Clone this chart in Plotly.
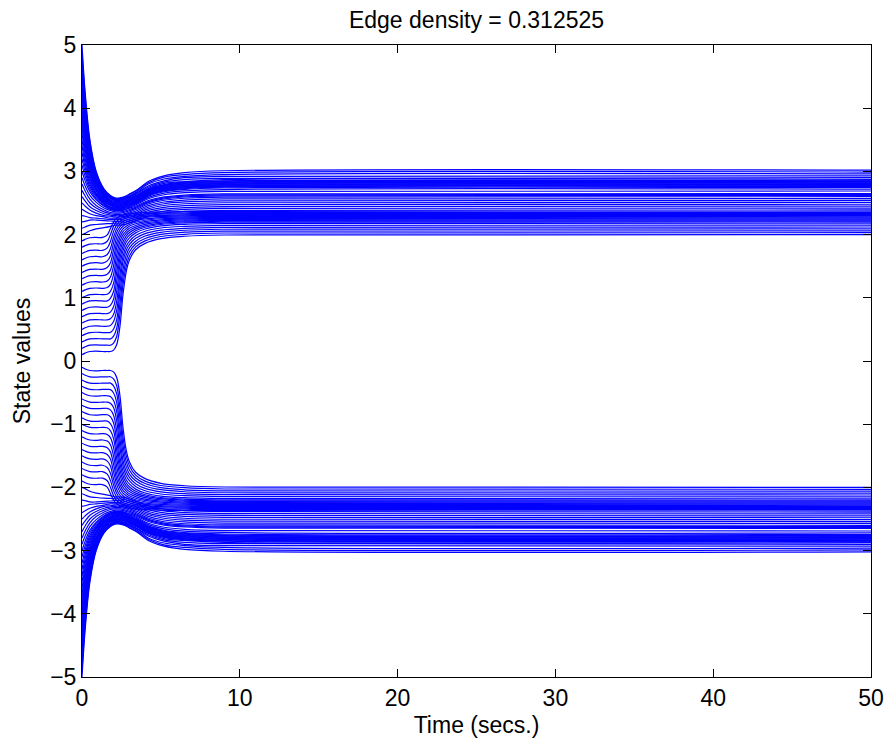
import plotly.graph_objects as go

# Sample times (s) for the two kinds of trajectories
T_DECAY = [0, 0.2, 0.5, 0.9, 1.4, 1.8, 2.1, 2.4, 2.7, 3.0, 3.5, 4.2, 5.2, 6.5, 9, 50]
T_RISE = [0, 0.2, 0.5, 0.9, 1.3, 1.6, 1.8, 2.0, 2.2, 2.4, 2.6, 2.8, 3.0, 3.4, 4.0, 5.0, 6.5, 9, 50]

# Upper cluster: trajectories starting above ~2 (decaying bundle)
UPPER_DECAY = [
    [5.0, 4.25, 3.5, 3.0, 2.72, 2.62, 2.58, 2.58, 2.6, 2.64, 2.71, 2.84, 2.93, 2.98, 3.01, 3.02],
    [4.9, 4.18, 3.46, 2.98, 2.71, 2.61, 2.57, 2.57, 2.59, 2.63, 2.7, 2.82, 2.91, 2.95, 2.98, 2.99],
    [4.8, 4.11, 3.42, 2.96, 2.69, 2.6, 2.56, 2.56, 2.58, 2.61, 2.68, 2.8, 2.88, 2.92, 2.95, 2.96],
    [4.7, 4.04, 3.38, 2.93, 2.68, 2.59, 2.55, 2.55, 2.57, 2.6, 2.66, 2.77, 2.85, 2.9, 2.92, 2.93],
    [4.6, 3.97, 3.34, 2.91, 2.67, 2.58, 2.54, 2.54, 2.56, 2.59, 2.65, 2.75, 2.83, 2.87, 2.89, 2.9],
    [4.5, 3.9, 3.3, 2.89, 2.65, 2.57, 2.53, 2.53, 2.55, 2.58, 2.63, 2.73, 2.81, 2.84, 2.87, 2.875],
    [4.4, 3.83, 3.25, 2.87, 2.64, 2.55, 2.52, 2.52, 2.535, 2.566, 2.622, 2.72, 2.792, 2.829, 2.852, 2.86],
    [4.3, 3.76, 3.21, 2.84, 2.63, 2.54, 2.51, 2.51, 2.525, 2.556, 2.612, 2.71, 2.782, 2.819, 2.842, 2.85],
    [4.2, 3.69, 3.17, 2.82, 2.61, 2.53, 2.5, 2.5, 2.515, 2.546, 2.602, 2.7, 2.772, 2.809, 2.832, 2.84],
    [4.1, 3.62, 3.13, 2.8, 2.6, 2.52, 2.49, 2.49, 2.505, 2.536, 2.592, 2.69, 2.762, 2.799, 2.822, 2.83],
    [4.0, 3.55, 3.09, 2.78, 2.59, 2.51, 2.48, 2.48, 2.495, 2.526, 2.582, 2.68, 2.752, 2.789, 2.812, 2.82],
    [3.9, 3.48, 3.05, 2.75, 2.57, 2.5, 2.47, 2.47, 2.485, 2.516, 2.572, 2.67, 2.742, 2.779, 2.802, 2.81],
    [3.8, 3.41, 3.01, 2.73, 2.56, 2.49, 2.46, 2.46, 2.475, 2.506, 2.562, 2.66, 2.732, 2.769, 2.792, 2.8],
    [3.7, 3.34, 2.97, 2.71, 2.54, 2.48, 2.45, 2.45, 2.465, 2.496, 2.552, 2.65, 2.722, 2.759, 2.782, 2.79],
    [3.6, 3.27, 2.93, 2.69, 2.53, 2.47, 2.44, 2.44, 2.455, 2.486, 2.542, 2.64, 2.712, 2.749, 2.772, 2.78],
    [3.5, 3.2, 2.89, 2.66, 2.52, 2.46, 2.43, 2.43, 2.445, 2.476, 2.532, 2.63, 2.702, 2.739, 2.762, 2.77],
    [3.4, 3.13, 2.84, 2.64, 2.5, 2.44, 2.42, 2.42, 2.435, 2.466, 2.522, 2.62, 2.692, 2.729, 2.752, 2.76],
    [3.3, 3.06, 2.8, 2.62, 2.49, 2.43, 2.41, 2.41, 2.425, 2.456, 2.51, 2.608, 2.678, 2.715, 2.737, 2.745],
    [3.2, 2.99, 2.76, 2.6, 2.48, 2.42, 2.4, 2.4, 2.414, 2.444, 2.496, 2.589, 2.656, 2.691, 2.713, 2.72],
    [3.1, 2.92, 2.72, 2.57, 2.46, 2.41, 2.39, 2.39, 2.4, 2.43, 2.48, 2.567, 2.63, 2.663, 2.683, 2.69],
    [3.0, 2.85, 2.68, 2.55, 2.45, 2.4, 2.38, 2.38, 2.392, 2.417, 2.461, 2.539, 2.596, 2.626, 2.644, 2.65],
    [2.9, 2.77, 2.62, 2.51, 2.42, 2.38, 2.36, 2.36, 2.372, 2.397, 2.443, 2.522, 2.58, 2.61, 2.629, 2.635],
    [2.8, 2.69, 2.56, 2.46, 2.39, 2.35, 2.34, 2.34, 2.353, 2.378, 2.424, 2.505, 2.564, 2.595, 2.614, 2.62],
    [2.7, 2.61, 2.5, 2.42, 2.36, 2.33, 2.32, 2.32, 2.333, 2.358, 2.404, 2.485, 2.544, 2.575, 2.594, 2.6],
    [2.6, 2.53, 2.44, 2.38, 2.33, 2.31, 2.3, 2.3, 2.312, 2.337, 2.381, 2.459, 2.516, 2.546, 2.564, 2.57],
    [2.5, 2.45, 2.39, 2.34, 2.3, 2.29, 2.28, 2.28, 2.292, 2.315, 2.358, 2.433, 2.488, 2.517, 2.534, 2.54],
    [2.4, 2.37, 2.33, 2.3, 2.28, 2.26, 2.26, 2.26, 2.271, 2.294, 2.335, 2.408, 2.46, 2.488, 2.504, 2.51],
    [2.3, 2.29, 2.27, 2.26, 2.25, 2.24, 2.24, 2.24, 2.251, 2.273, 2.312, 2.382, 2.432, 2.458, 2.474, 2.48],
    [2.2, 2.21, 2.23, 2.23, 2.22, 2.215, 2.21, 2.21, 2.221, 2.243, 2.282, 2.352, 2.402, 2.428, 2.444, 2.45],
    [2.1, 2.12, 2.15, 2.16, 2.17, 2.175, 2.18, 2.18, 2.191, 2.213, 2.252, 2.322, 2.372, 2.398, 2.414, 2.42],
    [2.0, 2.02, 2.06, 2.09, 2.11, 2.13, 2.15, 2.15, 2.161, 2.183, 2.222, 2.292, 2.342, 2.368, 2.384, 2.39],
]

# Upper cluster: trajectories starting between 0 and 2 (late steep rise)
UPPER_RISE = [
    [1.9, 1.925, 1.95, 1.955, 1.955, 1.996, 2.097, 2.2, 2.259, 2.29, 2.307, 2.32, 2.328, 2.341, 2.352, 2.361, 2.366, 2.369, 2.37],
    [1.8, 1.825, 1.85, 1.855, 1.854, 1.895, 1.997, 2.13, 2.207, 2.249, 2.271, 2.288, 2.298, 2.314, 2.328, 2.339, 2.345, 2.349, 2.35],
    [1.7, 1.725, 1.75, 1.755, 1.75, 1.791, 1.889, 2.051, 2.154, 2.21, 2.238, 2.26, 2.272, 2.292, 2.308, 2.322, 2.329, 2.333, 2.335],
    [1.6, 1.625, 1.65, 1.655, 1.65, 1.686, 1.777, 1.958, 2.096, 2.167, 2.203, 2.23, 2.245, 2.269, 2.289, 2.304, 2.313, 2.318, 2.32],
    [1.5, 1.525, 1.55, 1.555, 1.55, 1.584, 1.663, 1.867, 2.032, 2.124, 2.169, 2.199, 2.218, 2.245, 2.269, 2.287, 2.297, 2.303, 2.305],
    [1.4, 1.425, 1.45, 1.455, 1.45, 1.478, 1.549, 1.756, 1.957, 2.072, 2.132, 2.166, 2.19, 2.221, 2.248, 2.269, 2.281, 2.287, 2.29],
    [1.3, 1.325, 1.35, 1.355, 1.35, 1.371, 1.438, 1.635, 1.875, 2.014, 2.09, 2.131, 2.161, 2.196, 2.227, 2.251, 2.265, 2.272, 2.275],
    [1.2, 1.225, 1.25, 1.255, 1.25, 1.267, 1.326, 1.505, 1.785, 1.954, 2.047, 2.094, 2.132, 2.171, 2.206, 2.234, 2.249, 2.257, 2.26],
    [1.1, 1.125, 1.15, 1.155, 1.15, 1.162, 1.212, 1.369, 1.671, 1.886, 2.0, 2.057, 2.1, 2.145, 2.185, 2.215, 2.233, 2.242, 2.245],
    [1.0, 1.025, 1.05, 1.055, 1.05, 1.057, 1.103, 1.227, 1.546, 1.803, 1.947, 2.018, 2.065, 2.118, 2.162, 2.197, 2.216, 2.226, 2.23],
    [0.9, 0.925, 0.95, 0.955, 0.95, 0.951, 0.992, 1.099, 1.41, 1.714, 1.886, 1.977, 2.028, 2.09, 2.139, 2.178, 2.2, 2.211, 2.215],
    [0.8, 0.825, 0.85, 0.855, 0.85, 0.85, 0.881, 0.978, 1.266, 1.617, 1.819, 1.93, 1.989, 2.061, 2.116, 2.16, 2.184, 2.196, 2.2],
    [0.7, 0.725, 0.75, 0.755, 0.75, 0.75, 0.774, 0.857, 1.11, 1.508, 1.747, 1.878, 1.945, 2.027, 2.088, 2.137, 2.163, 2.176, 2.18],
    [0.6, 0.625, 0.65, 0.655, 0.65, 0.65, 0.667, 0.736, 0.95, 1.364, 1.658, 1.814, 1.892, 1.984, 2.053, 2.104, 2.13, 2.146, 2.15],
    [0.5, 0.525, 0.55, 0.555, 0.55, 0.55, 0.563, 0.625, 0.804, 1.225, 1.571, 1.749, 1.841, 1.941, 2.015, 2.07, 2.1, 2.115, 2.12],
    [0.4, 0.425, 0.45, 0.455, 0.45, 0.45, 0.453, 0.506, 0.657, 1.07, 1.454, 1.672, 1.785, 1.896, 1.977, 2.036, 2.069, 2.085, 2.09],
    [0.3, 0.325, 0.35, 0.355, 0.35, 0.35, 0.35, 0.394, 0.521, 0.897, 1.337, 1.588, 1.725, 1.851, 1.939, 2.004, 2.038, 2.055, 2.06],
    [0.2, 0.225, 0.25, 0.255, 0.25, 0.25, 0.25, 0.284, 0.392, 0.731, 1.211, 1.496, 1.656, 1.806, 1.9, 1.97, 2.005, 2.025, 2.03],
    [0.1, 0.125, 0.15, 0.155, 0.15, 0.15, 0.15, 0.172, 0.261, 0.539, 1.056, 1.408, 1.593, 1.76, 1.861, 1.935, 1.974, 1.994, 2.0],
]

# Lower cluster (mirror image in the picture), decaying bundle
LOWER_DECAY = [
    [-5.0, -4.25, -3.5, -3.0, -2.72, -2.62, -2.58, -2.58, -2.6, -2.64, -2.71, -2.84, -2.93, -2.98, -3.01, -3.02],
    [-4.9, -4.18, -3.46, -2.98, -2.71, -2.61, -2.57, -2.57, -2.59, -2.63, -2.7, -2.82, -2.91, -2.95, -2.98, -2.99],
    [-4.8, -4.11, -3.42, -2.96, -2.69, -2.6, -2.56, -2.56, -2.58, -2.61, -2.68, -2.8, -2.88, -2.92, -2.95, -2.96],
    [-4.7, -4.04, -3.38, -2.93, -2.68, -2.59, -2.55, -2.55, -2.57, -2.6, -2.66, -2.77, -2.85, -2.9, -2.92, -2.93],
    [-4.6, -3.97, -3.34, -2.91, -2.67, -2.58, -2.54, -2.54, -2.56, -2.59, -2.65, -2.75, -2.83, -2.87, -2.89, -2.9],
    [-4.5, -3.9, -3.3, -2.89, -2.65, -2.57, -2.53, -2.53, -2.55, -2.58, -2.63, -2.73, -2.81, -2.84, -2.87, -2.875],
    [-4.4, -3.83, -3.25, -2.87, -2.64, -2.55, -2.52, -2.52, -2.535, -2.566, -2.622, -2.72, -2.792, -2.829, -2.852, -2.86],
    [-4.3, -3.76, -3.21, -2.84, -2.63, -2.54, -2.51, -2.51, -2.525, -2.556, -2.612, -2.71, -2.782, -2.819, -2.842, -2.85],
    [-4.2, -3.69, -3.17, -2.82, -2.61, -2.53, -2.5, -2.5, -2.515, -2.546, -2.602, -2.7, -2.772, -2.809, -2.832, -2.84],
    [-4.1, -3.62, -3.13, -2.8, -2.6, -2.52, -2.49, -2.49, -2.505, -2.536, -2.592, -2.69, -2.762, -2.799, -2.822, -2.83],
    [-4.0, -3.55, -3.09, -2.78, -2.59, -2.51, -2.48, -2.48, -2.495, -2.526, -2.582, -2.68, -2.752, -2.789, -2.812, -2.82],
    [-3.9, -3.48, -3.05, -2.75, -2.57, -2.5, -2.47, -2.47, -2.485, -2.516, -2.572, -2.67, -2.742, -2.779, -2.802, -2.81],
    [-3.8, -3.41, -3.01, -2.73, -2.56, -2.49, -2.46, -2.46, -2.475, -2.506, -2.562, -2.66, -2.732, -2.769, -2.792, -2.8],
    [-3.7, -3.34, -2.97, -2.71, -2.54, -2.48, -2.45, -2.45, -2.465, -2.496, -2.552, -2.65, -2.722, -2.759, -2.782, -2.79],
    [-3.6, -3.27, -2.93, -2.69, -2.53, -2.47, -2.44, -2.44, -2.455, -2.486, -2.542, -2.64, -2.712, -2.749, -2.772, -2.78],
    [-3.5, -3.2, -2.89, -2.66, -2.52, -2.46, -2.43, -2.43, -2.445, -2.476, -2.532, -2.63, -2.702, -2.739, -2.762, -2.77],
    [-3.4, -3.13, -2.84, -2.64, -2.5, -2.44, -2.42, -2.42, -2.435, -2.466, -2.522, -2.62, -2.692, -2.729, -2.752, -2.76],
    [-3.3, -3.06, -2.8, -2.62, -2.49, -2.43, -2.41, -2.41, -2.425, -2.456, -2.51, -2.608, -2.678, -2.715, -2.737, -2.745],
    [-3.2, -2.99, -2.76, -2.6, -2.48, -2.42, -2.4, -2.4, -2.414, -2.444, -2.496, -2.589, -2.656, -2.691, -2.713, -2.72],
    [-3.1, -2.92, -2.72, -2.57, -2.46, -2.41, -2.39, -2.39, -2.4, -2.43, -2.48, -2.567, -2.63, -2.663, -2.683, -2.69],
    [-3.0, -2.85, -2.68, -2.55, -2.45, -2.4, -2.38, -2.38, -2.392, -2.417, -2.461, -2.539, -2.596, -2.626, -2.644, -2.65],
    [-2.9, -2.77, -2.62, -2.51, -2.42, -2.38, -2.36, -2.36, -2.372, -2.397, -2.443, -2.522, -2.58, -2.61, -2.629, -2.635],
    [-2.8, -2.69, -2.56, -2.46, -2.39, -2.35, -2.34, -2.34, -2.353, -2.378, -2.424, -2.505, -2.564, -2.595, -2.614, -2.62],
    [-2.7, -2.61, -2.5, -2.42, -2.36, -2.33, -2.32, -2.32, -2.333, -2.358, -2.404, -2.485, -2.544, -2.575, -2.594, -2.6],
    [-2.6, -2.53, -2.44, -2.38, -2.33, -2.31, -2.3, -2.3, -2.312, -2.337, -2.381, -2.459, -2.516, -2.546, -2.564, -2.57],
    [-2.5, -2.45, -2.39, -2.34, -2.3, -2.29, -2.28, -2.28, -2.292, -2.315, -2.358, -2.433, -2.488, -2.517, -2.534, -2.54],
    [-2.4, -2.37, -2.33, -2.3, -2.28, -2.26, -2.26, -2.26, -2.271, -2.294, -2.335, -2.408, -2.46, -2.488, -2.504, -2.51],
    [-2.3, -2.29, -2.27, -2.26, -2.25, -2.24, -2.24, -2.24, -2.251, -2.273, -2.312, -2.382, -2.432, -2.458, -2.474, -2.48],
    [-2.2, -2.21, -2.23, -2.23, -2.22, -2.215, -2.21, -2.21, -2.221, -2.243, -2.282, -2.352, -2.402, -2.428, -2.444, -2.45],
    [-2.1, -2.12, -2.15, -2.16, -2.17, -2.175, -2.18, -2.18, -2.191, -2.213, -2.252, -2.322, -2.372, -2.398, -2.414, -2.42],
    [-2.0, -2.02, -2.06, -2.09, -2.11, -2.13, -2.15, -2.15, -2.161, -2.183, -2.222, -2.292, -2.342, -2.368, -2.384, -2.39],
]

# Lower cluster, trajectories starting between 0 and -2 (late steep fall)
LOWER_RISE = [
    [-1.9, -1.925, -1.95, -1.955, -1.955, -1.996, -2.097, -2.2, -2.259, -2.29, -2.307, -2.32, -2.328, -2.341, -2.352, -2.361, -2.366, -2.369, -2.37],
    [-1.8, -1.825, -1.85, -1.855, -1.854, -1.895, -1.997, -2.13, -2.207, -2.249, -2.271, -2.288, -2.298, -2.314, -2.328, -2.339, -2.345, -2.349, -2.35],
    [-1.7, -1.725, -1.75, -1.755, -1.75, -1.791, -1.889, -2.051, -2.154, -2.21, -2.238, -2.26, -2.272, -2.292, -2.308, -2.322, -2.329, -2.333, -2.335],
    [-1.6, -1.625, -1.65, -1.655, -1.65, -1.686, -1.777, -1.958, -2.096, -2.167, -2.203, -2.23, -2.245, -2.269, -2.289, -2.304, -2.313, -2.318, -2.32],
    [-1.5, -1.525, -1.55, -1.555, -1.55, -1.584, -1.663, -1.867, -2.032, -2.124, -2.169, -2.199, -2.218, -2.245, -2.269, -2.287, -2.297, -2.303, -2.305],
    [-1.4, -1.425, -1.45, -1.455, -1.45, -1.478, -1.549, -1.756, -1.957, -2.072, -2.132, -2.166, -2.19, -2.221, -2.248, -2.269, -2.281, -2.287, -2.29],
    [-1.3, -1.325, -1.35, -1.355, -1.35, -1.371, -1.438, -1.635, -1.875, -2.014, -2.09, -2.131, -2.161, -2.196, -2.227, -2.251, -2.265, -2.272, -2.275],
    [-1.2, -1.225, -1.25, -1.255, -1.25, -1.267, -1.326, -1.505, -1.785, -1.954, -2.047, -2.094, -2.132, -2.171, -2.206, -2.234, -2.249, -2.257, -2.26],
    [-1.1, -1.125, -1.15, -1.155, -1.15, -1.162, -1.212, -1.369, -1.671, -1.886, -2.0, -2.057, -2.1, -2.145, -2.185, -2.215, -2.233, -2.242, -2.245],
    [-1.0, -1.025, -1.05, -1.055, -1.05, -1.057, -1.103, -1.227, -1.546, -1.803, -1.947, -2.018, -2.065, -2.118, -2.162, -2.197, -2.216, -2.226, -2.23],
    [-0.9, -0.925, -0.95, -0.955, -0.95, -0.951, -0.992, -1.099, -1.41, -1.714, -1.886, -1.977, -2.028, -2.09, -2.139, -2.178, -2.2, -2.211, -2.215],
    [-0.8, -0.825, -0.85, -0.855, -0.85, -0.85, -0.881, -0.978, -1.266, -1.617, -1.819, -1.93, -1.989, -2.061, -2.116, -2.16, -2.184, -2.196, -2.2],
    [-0.7, -0.725, -0.75, -0.755, -0.75, -0.75, -0.774, -0.857, -1.11, -1.508, -1.747, -1.878, -1.945, -2.027, -2.088, -2.137, -2.163, -2.176, -2.18],
    [-0.6, -0.625, -0.65, -0.655, -0.65, -0.65, -0.667, -0.736, -0.95, -1.364, -1.658, -1.814, -1.892, -1.984, -2.053, -2.104, -2.13, -2.146, -2.15],
    [-0.5, -0.525, -0.55, -0.555, -0.55, -0.55, -0.563, -0.625, -0.804, -1.225, -1.571, -1.749, -1.841, -1.941, -2.015, -2.07, -2.1, -2.115, -2.12],
    [-0.4, -0.425, -0.45, -0.455, -0.45, -0.45, -0.453, -0.506, -0.657, -1.07, -1.454, -1.672, -1.785, -1.896, -1.977, -2.036, -2.069, -2.085, -2.09],
    [-0.3, -0.325, -0.35, -0.355, -0.35, -0.35, -0.35, -0.394, -0.521, -0.897, -1.337, -1.588, -1.725, -1.851, -1.939, -2.004, -2.038, -2.055, -2.06],
    [-0.2, -0.225, -0.25, -0.255, -0.25, -0.25, -0.25, -0.284, -0.392, -0.731, -1.211, -1.496, -1.656, -1.806, -1.9, -1.97, -2.005, -2.025, -2.03],
    [-0.1, -0.125, -0.15, -0.155, -0.15, -0.15, -0.15, -0.172, -0.261, -0.539, -1.056, -1.408, -1.593, -1.76, -1.861, -1.935, -1.974, -1.994, -2.0],
]

X_TICKS = [0, 10, 20, 30, 40, 50]
Y_TICKS = [-5, -4, -3, -2, -1, 0, 1, 2, 3, 4, 5]

TITLE = "Edge density = 0.312525"
X_LABEL = "Time (secs.)"
Y_LABEL = "State values"

FONT = "Liberation Sans, Arial, Helvetica, sans-serif"
FONT_SIZE = 23
LINE_COLOR = "#0000ff"

fig = go.Figure()


def add_group(times, rows):
    for row in rows:
        fig.add_trace(go.Scatter(
            x=times, y=row, mode="lines",
            line=dict(color=LINE_COLOR, width=1.2, shape="spline", smoothing=1.0),
            hoverinfo="skip", showlegend=False,
        ))


add_group(T_DECAY, UPPER_DECAY)
add_group(T_RISE, UPPER_RISE)
add_group(T_DECAY, LOWER_DECAY)
add_group(T_RISE, LOWER_RISE)

axis_common = dict(
    showline=True, linecolor="black", linewidth=1, mirror="allticks",
    ticks="inside", ticklen=8, tickcolor="black", tickwidth=1,
    showgrid=False, zeroline=False,
    tickfont=dict(family=FONT, size=FONT_SIZE, color="black"),
)

fig.update_layout(
    width=896, height=746,
    margin=dict(l=82, r=20, t=45, b=69),
    paper_bgcolor="white", plot_bgcolor="white",
    showlegend=False,
    font=dict(family=FONT, size=FONT_SIZE, color="black"),
    title=dict(text=TITLE, x=0.5, xref="paper", xanchor="center",
               y=1 - 20 / 746, yref="container", yanchor="middle",
               font=dict(family=FONT, size=FONT_SIZE, color="black")),
    xaxis=dict(range=[0, 50], tickvals=X_TICKS, ticktext=[str(v) for v in X_TICKS],
               title=dict(text=X_LABEL, standoff=7, font=dict(family=FONT, size=FONT_SIZE, color="black")),
               **axis_common),
    yaxis=dict(range=[-5, 5], tickvals=Y_TICKS,
               ticktext=[("\u2212" + str(-v)) if v < 0 else str(v) for v in Y_TICKS],
               title=dict(text=Y_LABEL, standoff=13, font=dict(family=FONT, size=FONT_SIZE, color="black")),
               **axis_common),
)

fig.write_html("out.html")
